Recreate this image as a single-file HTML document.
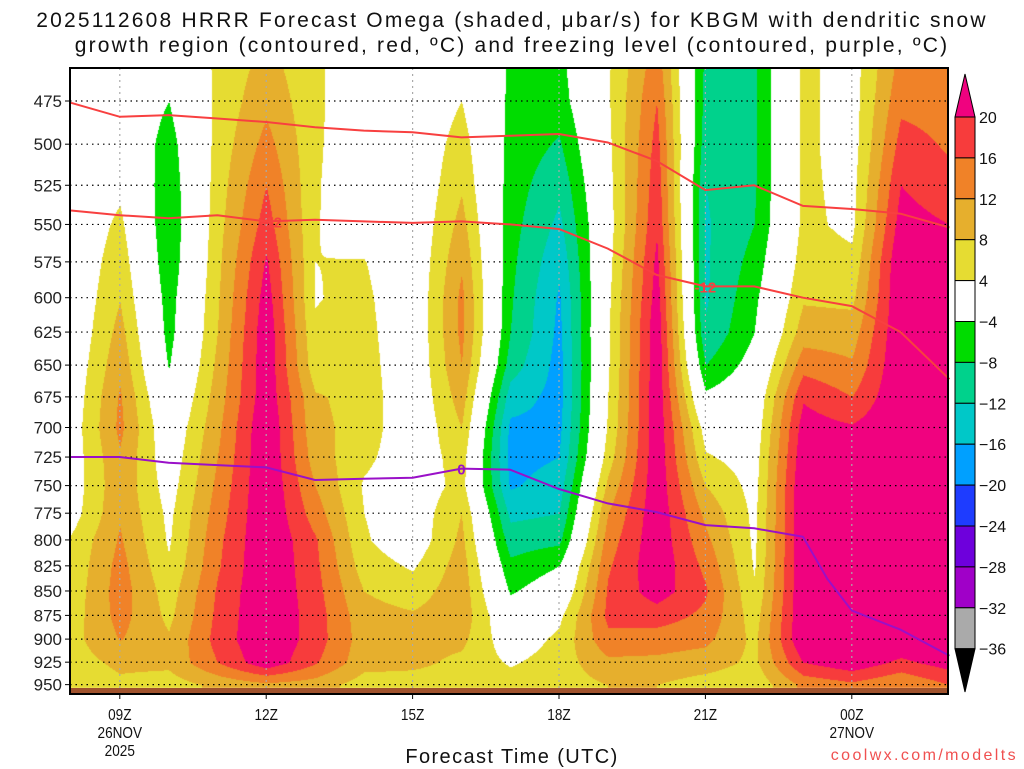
<!DOCTYPE html>
<html><head><meta charset="utf-8"><style>
body{margin:0;background:#fff;width:1024px;height:768px;overflow:hidden;position:relative;font-family:"Liberation Sans",sans-serif}
.t{position:absolute;white-space:nowrap}
</style></head><body>
<div class="t" style="left:0;width:1024px;text-align:center;top:9px;font-size:21px;letter-spacing:2.2px;color:#111">2025112608 HRRR Forecast Omega (shaded, μbar/s) for KBGM with dendritic snow</div>
<div class="t" style="left:0;width:1024px;text-align:center;top:34px;font-size:21px;letter-spacing:2.2px;color:#111">growth region (contoured, red, ºC) and freezing level (contoured, purple, ºC)</div>
<canvas id="cv" width="1024" height="768" style="position:absolute;left:0;top:0"></canvas>
<svg id="sv" width="1024" height="768" style="position:absolute;left:0;top:0" font-family="Liberation Sans, sans-serif"></svg>
<div class="t" style="left:0;width:1024px;text-align:center;top:746px;font-size:20px;letter-spacing:1.4px;color:#111">Forecast Time (UTC)</div>
<div class="t" style="right:6px;top:747px;font-size:16px;letter-spacing:2.4px;color:#f05050">coolwx.com/modelts</div>
<script>
const hourLabels=["08Z","09Z","10Z","11Z","12Z","13Z","14Z","15Z","16Z","17Z","18Z","19Z","20Z","21Z","22Z","23Z","00Z","01Z","02Z"];
const pressures=[450,475,500,525,550,575,600,625,650,675,700,725,750,775,800,825,850,875,900,925,950];
const omega=[
[0,0,0,0,0,0,0,0,0.5,1,1.5,1.5,1.5,2,4.5,5,5.5,6,6.5,6,5],
[0,0,1,3,5,6.5,7.8,9.5,11,12.5,13,11.5,11,11.5,12.5,13.5,14,13.5,12.2,9,7],
[-2,-4,-6,-7,-7.5,-7,-6,-5.5,-4.3,-2,0,1,2,3,3.5,4.5,6,7,8.5,9,6],
[5,5,5.5,6,6.5,7,7.5,8,9,10,11,12,13,14,15,15.5,16.5,17,17.5,16,9],
[9,11,13.5,16,18,20.5,22,23,23,23,24,24,24,24,24,24,24,24,24,23,11],
[5,5,4.8,4.5,4.2,4,3.8,4.5,5.5,8.5,9,10,12,14,16.5,17,17.5,18,18,16.5,10],
[0,0,0,0,2,4.2,5,5.5,6,6.5,6.5,5,3.5,4,4.5,6,8,9.5,10,9.5,6],
[0,0,0,0,0,0,0,0,0,0,0,1,1,1,1,3.5,6,8.5,9.5,9,6],
[2,4,6,7.5,9.5,11.5,13,13,12,10,8,6,5.5,8,9,10,10.5,10.5,9,7,6],
[-4.5,-5,-5.5,-6,-6.5,-7,-7.5,-8,-10,-14,-17,-17.5,-16.5,-13,-10,-7,-4.5,-1,1,3.5,6],
[-5,-6,-8.5,-11,-13,-15,-16.5,-17,-17.5,-17.5,-17,-16,-14,-12,-9,-4,-1,3,5,6,6],
[3.5,3.5,3,2.5,2,2.5,3,3.5,3.5,4,4.5,6,9,12,14,15.5,16.5,17,15,11,8],
[14,16,17.5,18.5,19.5,21,22,23,23,23,23,23,23,23,23,23,22,18,14,11,8],
[-9,-9.5,-10.5,-12,-12.5,-12.5,-12.5,-11.5,-8,-3,2,4.5,8,11,13,15,16.5,15,13,10,6],
[-8.5,-8.5,-8.5,-8.5,-8,-6.5,-5,-4,-2,0,1,2,2.5,3,3.2,3.6,4.5,6,7,7,5],
[5,5,5,5,5,6,7.5,10,14.5,19.5,22,23,24,24,24,24,24,24,24,20,13],
[2,2,2,2.5,3,5,7,10,12.5,16,20.5,22,23,24,24,24,24,24,24,23,15],
[13,15,17.5,20,22,24,24,24,24,24,24,24,24,24,24,24,24,24,24,19,12],
[14,14.5,15.5,17,20,21,24,24,24,24,24,24,24,24,24,24,24,24,24,22,16]];
const snowTop=[476,484,483,485,487,490,492,493,496,495,494,499,510,528,525,538,540,543,552];
const snowBottom=[541,544,546,544,548,547,548,549,548,550,553,566,584,592,592,600,606,625,661];
const frzHours=[0,1,2,3,4,5,6,7,8,9,10,11,12,13,14,15,15.5,16,17,18];
const frzLevel=[725,725,730,732,734,745,744,743,735,736,753,766,774,786,789,797,838,870,890,918];
const yTicks=[475,500,525,550,575,600,625,650,675,700,725,750,775,800,825,850,875,900,925,950];
const xTickHours=[1,4,7,10,13,16];
const xTickLabels=[["09Z","26NOV","2025"],["12Z"],["15Z"],["18Z"],["21Z"],["00Z","27NOV"]];
const cbLabels=["20","16","12","8","4","−4","−8","−12","−16","−20","−24","−28","−32","−36"];

const PL=70,PR=948,PT=68,PB=694;
const X=h=>71+h*48.8;
const Y=p=>101+842*Math.log(p/475);
const levels=[-36,-32,-28,-24,-20,-16,-12,-8,-4,4,8,12,16,20];
const cols=["#000000","#aaaaaa","#a000c8","#6e00dc","#1e3cff","#00a0ff","#00c8c8","#00d28c","#00dc00","#ffffff","#e6dc32","#e6af2d","#f08228","#f73c3c","#f0027f"];
function val(h,p){
  h=Math.max(0,Math.min(hourLabels.length-1.0001,h));
  let r=(p-450)/25;r=Math.max(0,Math.min(pressures.length-1.0001,r));
  const i=Math.floor(h),j=Math.floor(r),a=h-i,b=r-j;
  return (1-a)*(1-b)*omega[i][j]+a*(1-b)*omega[i+1][j]+(1-a)*b*omega[i][j+1]+a*b*omega[i+1][j+1];
}
const ctx=document.getElementById('cv').getContext('2d');
const img=ctx.createImageData(1024,768);
const rgb=cols.map(c=>[parseInt(c.substr(1,2),16),parseInt(c.substr(3,2),16),parseInt(c.substr(5,2),16)]);
for(let y=PT;y<688;y++){const p=475*Math.exp((y-101)/842);
  for(let x=PL;x<PR;x++){const h=(x-71)/48.8;const v=val(h,p);
    let k=0;while(k<levels.length&&v>=levels[k])k++;
    const c=rgb[k],o=(y*1024+x)*4;img.data[o]=c[0];img.data[o+1]=c[1];img.data[o+2]=c[2];img.data[o+3]=255;}}
ctx.putImageData(img,0,0);

const NS="http://www.w3.org/2000/svg",sv=document.getElementById('sv');
function mk(t,a){const e=document.createElementNS(NS,t);for(const k in a)e.setAttribute(k,a[k]);sv.appendChild(e);return e;}
let g=mk('rect',{x:PL,y:688,width:PR-PL,height:PB-688,fill:'#a0522d'});


yTicks.forEach(p=>{
  const l=mk('line',{x1:PL,x2:PR,y1:Y(p),y2:Y(p),stroke:'#000','stroke-width':1.2,'stroke-dasharray':'1.5,4'});
  
  
  const tk=mk('line',{x1:PL-5,x2:PL,y1:Y(p),y2:Y(p),stroke:'#000'});
  
  
  const t=mk('text',{x:62,y:Y(p)+6,'text-anchor':'end','font-size':17,fill:'#222'});t.textContent=p;
  
  
});
xTickHours.forEach((h,i)=>{
  const l=mk('line',{x1:X(h),x2:X(h),y1:PT,y2:688,stroke:'#aaa','stroke-width':1.2,'stroke-dasharray':'2,4'});
  
  
  const tk=mk('line',{x1:X(h),x2:X(h),y1:PB,y2:PB+5,stroke:'#000'});
  
  
  xTickLabels[i].forEach((s,k)=>{
    const t=mk('text',{x:X(h),y:720+k*18,'text-anchor':'middle','font-size':16,fill:'#111',transform:`translate(${X(h)},0) scale(0.85,1) translate(${-X(h)},0)`});t.textContent=s;
    
    
  });
});
function line(hs,ps,color,name){
  const d=hs.map((h,i)=>(i?'L':'M')+Math.max(PL,X(h)).toFixed(1)+','+Y(ps[i]).toFixed(1)).join('');
  const e=mk('path',{d,fill:'none',stroke:color,'stroke-width':2});
  
  
}
const hrs=hourLabels.map((_,i)=>i);
line(hrs,snowTop,'#f84040','dgz-top-contour');
line(hrs,snowBottom,'#f84040','dgz-bottom-contour');
line(frzHours,frzLevel,'#9a10c8','freezing-level-contour');
function lab(h,p,s,c,name){
  const t=mk('text',{x:X(h),y:Y(p)+6,'text-anchor':'middle','font-size':15,'font-weight':'bold',fill:c});t.textContent=s;
  
  
}
lab(4.1,548,'-12','#f84040','dgz-label-left');
lab(13,592,'-12','#f84040','dgz-label-right');
lab(8,735,'0','#9a10c8','freezing-label');
const fr=mk('rect',{x:PL,y:PT,width:PR-PL,height:PB-PT,fill:'none',stroke:'#000','stroke-width':2});


const cbx=955,cbw=20,cbTop=117,bh=40.9;
const ta=mk('polygon',{points:`${cbx},${cbTop} ${cbx+cbw},${cbTop} ${cbx+cbw/2},74`,fill:cols[14],stroke:'#000'});


for(let i=0;i<13;i++){
  const r=mk('rect',{x:cbx,y:cbTop+i*bh,width:cbw,height:bh,fill:cols[13-i],stroke:'#000'});
  
  
}
const cbBot=cbTop+13*bh;
const ba=mk('polygon',{points:`${cbx},${cbBot} ${cbx+cbw},${cbBot} ${cbx+cbw/2},692`,fill:'#000',stroke:'#000'});


cbLabels.forEach((s,i)=>{
  const t=mk('text',{x:979,y:cbTop+i*bh+6,'font-size':16,fill:'#111'});t.textContent=s;
  
  
});
</script>
</body></html>
